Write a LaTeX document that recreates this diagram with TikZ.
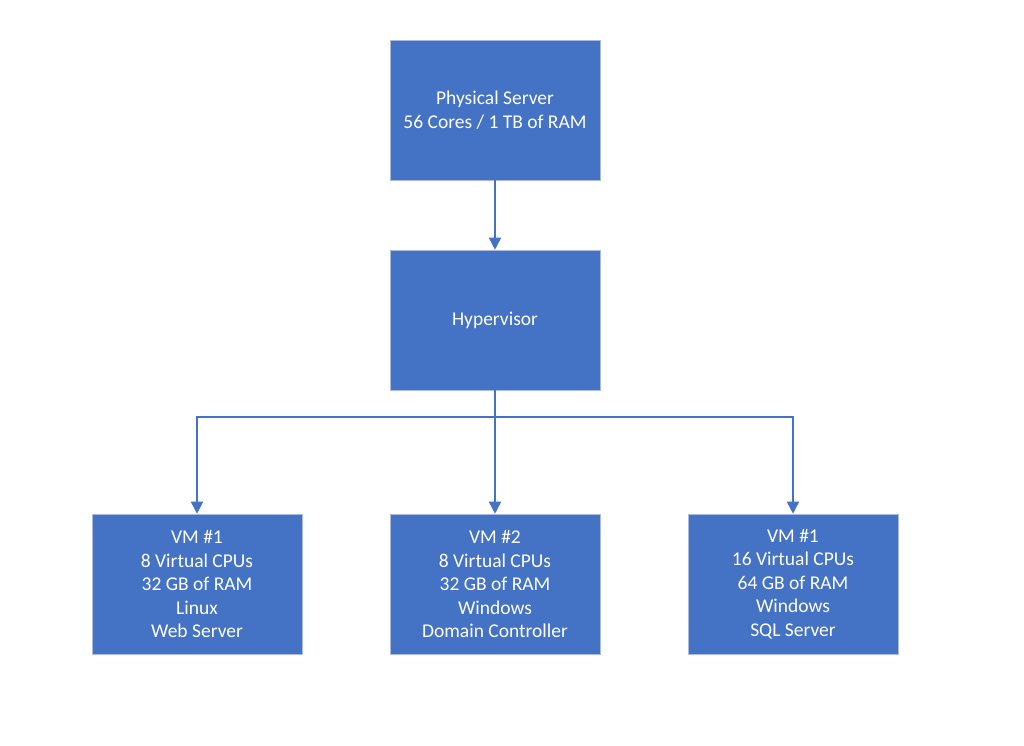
\documentclass[tikz,border=0pt]{standalone}
\usepackage{fontspec}
\setmainfont{Carlito}
\usetikzlibrary{arrows.meta}
\definecolor{boxblue}{HTML}{4472C4}
\definecolor{edgeblue}{HTML}{A9BCE0}
\begin{document}
\begin{tikzpicture}[x=1pt,y=-1pt,
  vmbox/.style={rectangle, fill=boxblue, draw=edgeblue, line width=0.6pt,
    minimum width=210pt, minimum height=140pt, text=white, align=center,
    font=\fontsize{19.5}{23.5}\selectfont, inner sep=0pt},
  conn/.style={draw=boxblue, line width=1.6pt, -{Triangle[width=12pt,length=12pt]}}]
\useasboundingbox (0,0) rectangle (1024,745);
\fill[white] (0,0) rectangle (1024,745);
\node[vmbox] (phys) at (495,110) {Physical Server\\56 Cores / 1 TB of RAM};
\node[vmbox] (hyp) at (495,320) {\raisebox{-2pt}{Hypervisor}};
\node[vmbox] (vm1) at (197,584) {VM \#1\\8 Virtual CPUs\\32 GB of RAM\\Linux\\Web Server};
\node[vmbox] (vm2) at (495,584) {VM \#2\\8 Virtual CPUs\\32 GB of RAM\\Windows\\Domain Controller};
\node[vmbox] (vm3) at (793,584) {VM \#1\\16 Virtual CPUs\\64 GB of RAM\\Windows\\SQL Server};
\coordinate (split) at (495,417);
\draw[conn] (phys) -- (hyp);
\draw[conn] (hyp.south) -- (split) -| (vm1.north);
\draw[conn] (hyp.south) -- (vm2.north);
\draw[conn] (split) -| (vm3.north);
\end{tikzpicture}
\end{document}
